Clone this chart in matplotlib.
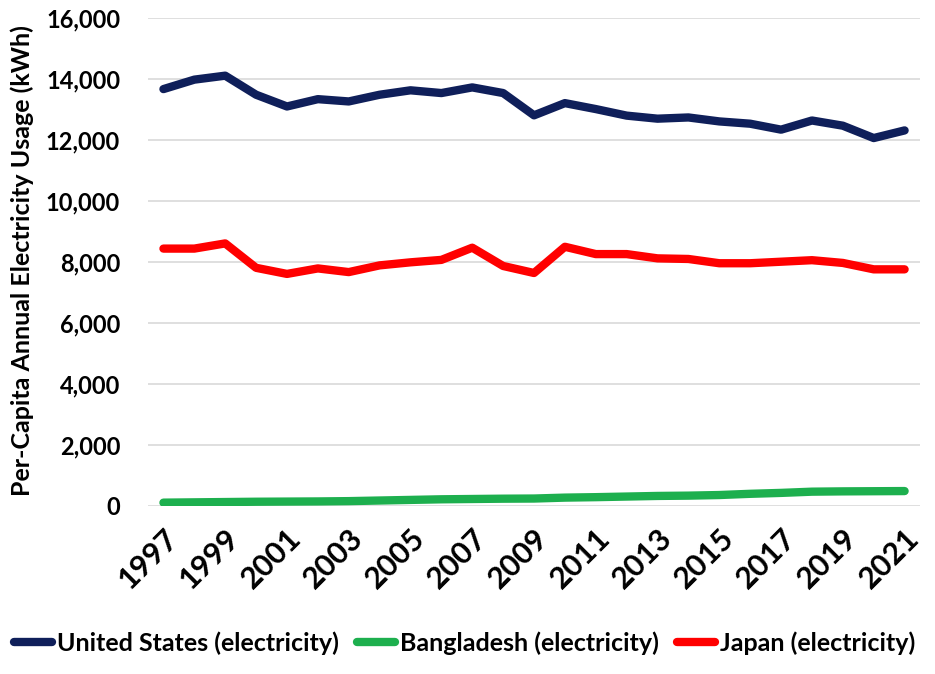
import matplotlib
matplotlib.use("Agg")
import matplotlib.pyplot as plt
from matplotlib import font_manager

years = list(range(1997, 2022))

us = [13660, 13970, 14100, 13475, 13090, 13330, 13255, 13475, 13620, 13530,
      13715, 13530, 12800, 13200, 13005, 12790, 12690, 12730, 12600, 12525,
      12330, 12630, 12460, 12055, 12305]

bangladesh = [100, 110, 120, 130, 135, 140, 150, 170, 190, 210,
              220, 230, 235, 265, 280, 300, 320, 330, 350, 390,
              420, 460, 470, 475, 480]

japan = [8430, 8430, 8600, 7800, 7600, 7780, 7660, 7880, 7980, 8060,
         8460, 7860, 7630, 8490, 8250, 8250, 8110, 8090, 7950, 7950,
         8000, 8050, 7960, 7750, 7750]

names = ["United States (electricity)", "Bangladesh (electricity)", "Japan (electricity)"]
colors = ["#0F1F5A", "#1DAF4E", "#FF0000"]

yticks = list(range(0, 16001, 2000))
xticks = list(range(1997, 2022, 2))

avail = set(f.name for f in font_manager.fontManager.ttflist)
tick_font = "Lato" if "Lato" in avail else "DejaVu Sans"

fig = plt.figure(figsize=(9.35, 6.74), dpi=100)
ax = fig.add_axes([0.1583, 0.2497, 0.984 - 0.1583, 0.9737 - 0.2497])

for vals, name, c in zip([us, bangladesh, japan], names, colors):
    ax.plot(years, vals, color=c, lw=6, solid_capstyle="round",
            solid_joinstyle="round", label=name)

ax.set_xlim(1996.5, 2021.5)
ax.set_ylim(0, 16000)
ax.set_yticks(yticks)
ax.set_yticklabels([f"{v:,}" for v in yticks], fontsize=17, fontweight="bold",
                   family=tick_font)
ax.set_xticks(xticks)
ax.set_xticklabels([str(v) for v in xticks], fontsize=22, fontweight="bold",
                   family=tick_font, rotation=45, ha="right", rotation_mode="anchor")
ax.tick_params(axis="y", length=0, pad=20)
ax.tick_params(axis="x", length=0, pad=13)
ax.grid(axis="y", color="#D9D9D9", lw=1.2)
ax.set_axisbelow(True)
for s in ax.spines.values():
    s.set_visible(False)

fig.text(0.024, 0.614, "Per-Capita Annual Electricity Usage (kWh)", rotation=90,
         ha="center", va="center", fontsize=18, fontweight="bold", family=tick_font)

leg = fig.legend(loc="center", bbox_to_anchor=(0.497, 0.046), ncol=3, frameon=False,
                 prop={"family": tick_font, "size": 18, "weight": "bold"},
                 handlelength=1.5, handletextpad=0.2, columnspacing=0.75,
                 borderpad=0, borderaxespad=0)

fig.savefig("out.png", dpi=100)
